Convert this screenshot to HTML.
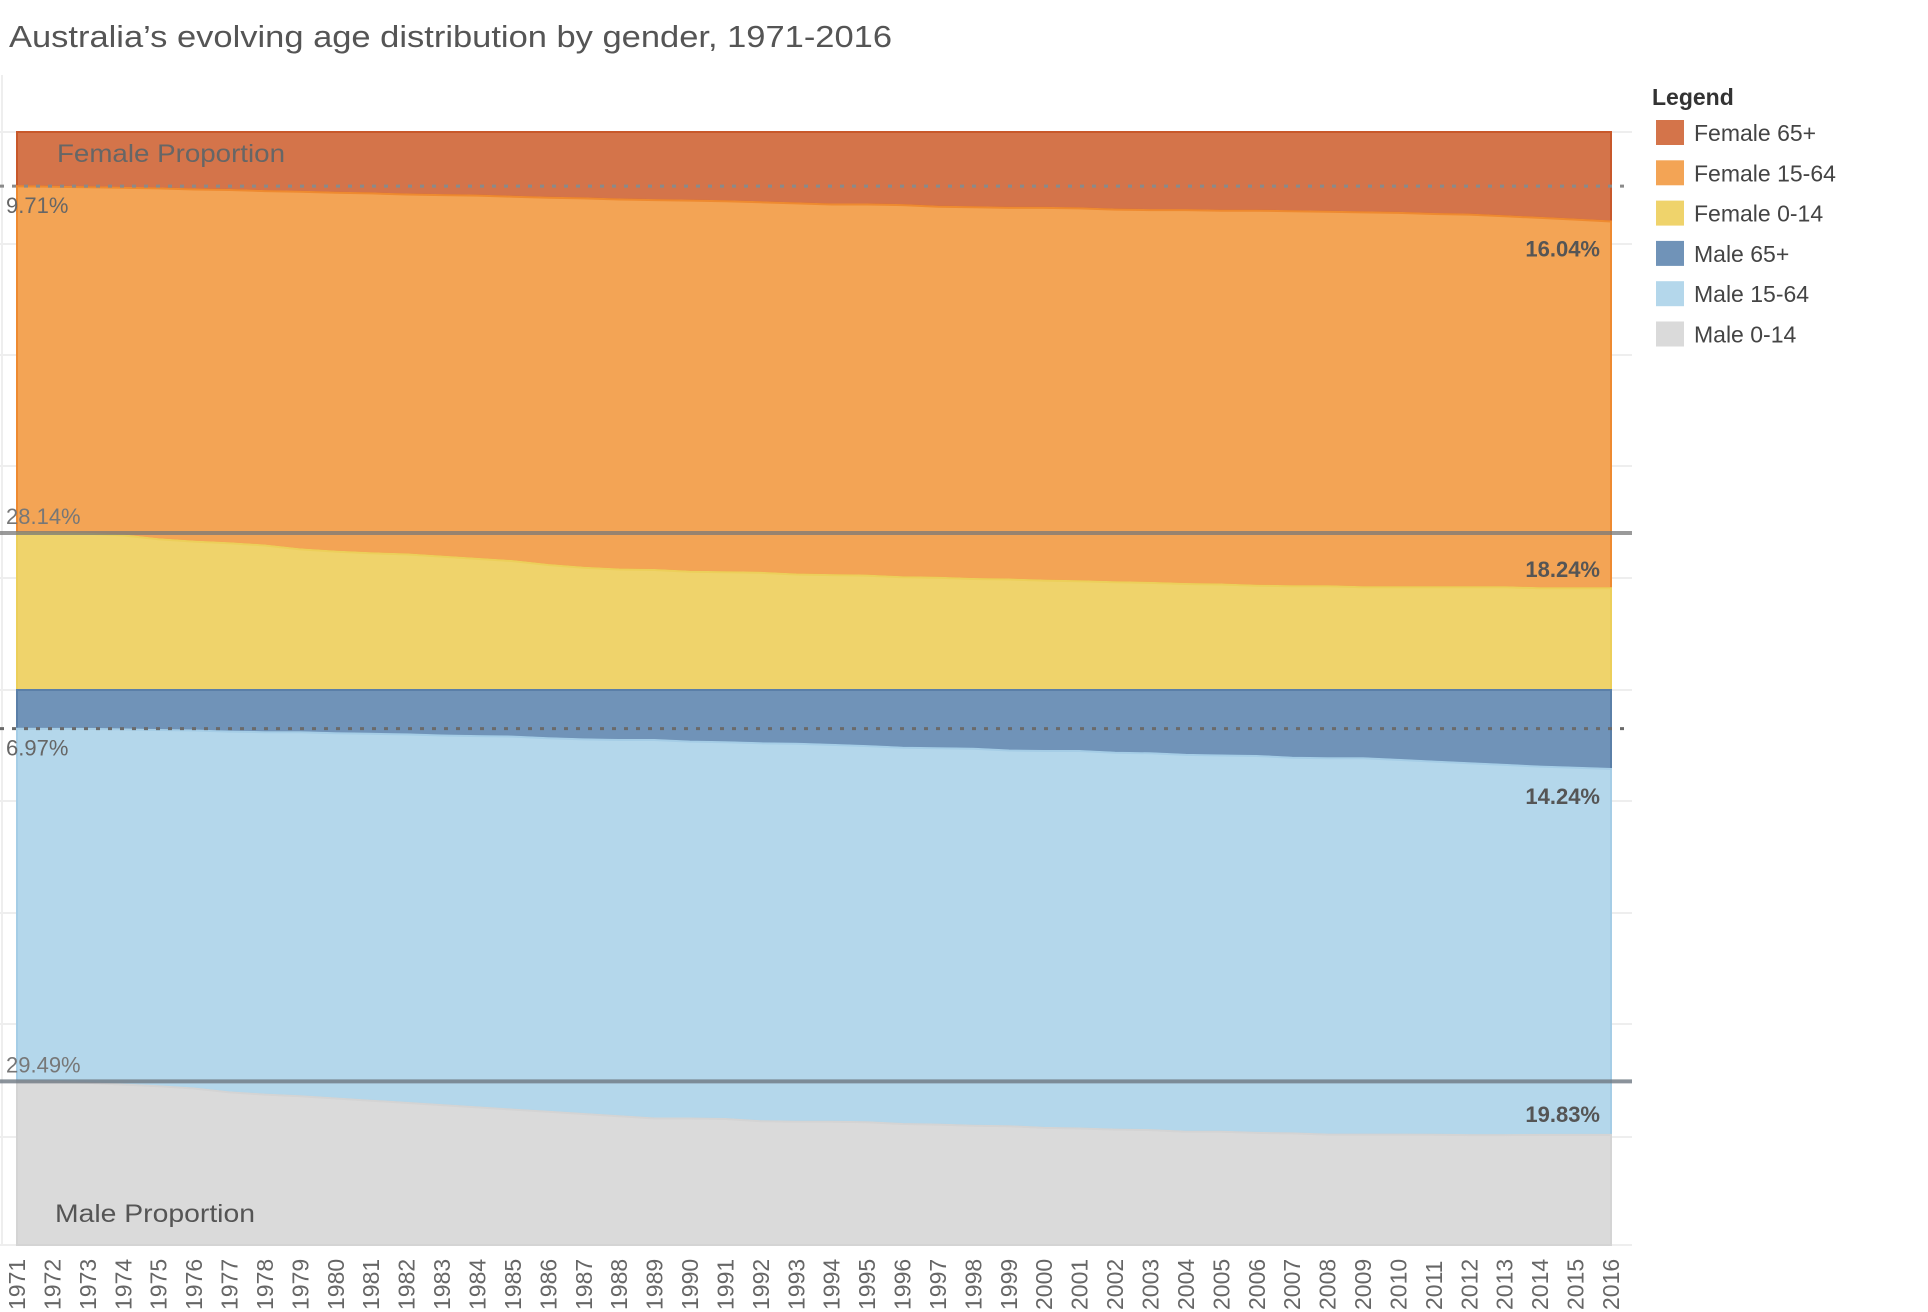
<!DOCTYPE html>
<html><head><meta charset="utf-8"><style>
html,body{margin:0;padding:0;background:#fff;}
svg{display:block;font-family:"Liberation Sans",sans-serif;}
</style></head><body>
<svg id="chart" width="1928" height="1312" viewBox="0 0 1928 1312">
<text x="9" y="47" font-size="31" fill="#555" textLength="883" lengthAdjust="spacingAndGlyphs">Australia’s evolving age distribution by gender, 1971-2016</text>
<g id="grid"></g>
<g id="areas"></g>
<g id="refs"></g>
<g id="labels"></g>
<g id="xaxis"></g>
<g id="legend"></g>
</svg>
<script>
const years = [];
for (let y = 1971; y <= 2016; y++) years.push(y);
const female65 = [9.71,9.8,9.9,10.0,10.1,10.3,10.4,10.6,10.7,10.9,11.0,11.2,11.3,11.4,11.6,11.8,11.9,12.1,12.2,12.3,12.4,12.6,12.8,13.0,13.0,13.1,13.4,13.5,13.6,13.6,13.7,13.9,14.0,14.0,14.1,14.1,14.2,14.3,14.4,14.5,14.7,14.8,15.1,15.4,15.7,16.04];
const female014 = [28.14,28.1,28.0,27.7,27.0,26.6,26.3,25.9,25.2,24.8,24.5,24.3,23.9,23.5,23.1,22.4,21.9,21.6,21.5,21.2,21.1,21.0,20.7,20.6,20.5,20.2,20.1,19.9,19.8,19.6,19.5,19.3,19.2,19.0,18.9,18.7,18.6,18.6,18.4,18.4,18.4,18.4,18.4,18.25,18.24,18.24];
const male65 = [6.97,7.0,7.0,7.1,7.2,7.3,7.5,7.6,7.6,7.8,7.9,8.0,8.2,8.3,8.4,8.7,8.9,9.0,9.0,9.3,9.4,9.6,9.7,9.9,10.1,10.4,10.5,10.6,10.9,11.0,11.0,11.3,11.4,11.7,11.8,11.9,12.2,12.3,12.3,12.6,12.9,13.2,13.5,13.8,14.0,14.24];
const male014 = [29.49,29.4,29.2,28.9,28.6,28.2,27.5,27.1,26.8,26.4,26.0,25.6,25.2,24.8,24.4,24.0,23.6,23.2,22.8,22.8,22.7,22.3,22.2,22.2,22.1,21.8,21.7,21.5,21.4,21.1,21.0,20.8,20.7,20.4,20.4,20.2,20.1,19.9,19.9,19.9,19.85,19.8,19.8,19.83,19.83,19.83];
const legendLabels = ["Female 65+","Female 15-64","Female 0-14","Male 65+","Male 15-64","Male 0-14"];
const legendColors = ["#d4744a","#f3a455","#efd36b","#7093b8","#b4d7eb","#dadada"];

const NS = "http://www.w3.org/2000/svg";
const X0 = 17, X1 = 1611;
const FT = 132, FB = 690, MT = 690, MB = 1245;
function x(i){ return X0 + i * (X1 - X0) / (years.length - 1); }
function fy(p){ return FT + p / 100 * (FB - FT); }
function myTop(p){ return MT + p / 100 * (MB - MT); }
function myBot(p){ return MB - p / 100 * (MB - MT); }
function fyBot(p){ return FB - p / 100 * (FB - FT); }
function mk(tag, attrs, parent){
  const e = document.createElementNS(NS, tag);
  for (const k in attrs) e.setAttribute(k, attrs[k]);
  parent.appendChild(e); return e;
}
const grid = document.getElementById('grid');
const gy = [132,244,355,466,578,690,801,913,1024,1137,1245];
gy.forEach(v => {
  const l = mk('line', {x1:0, x2:1632, y1:v, y2:v, stroke:'#eeeeee', 'stroke-width':2}, grid);
  
  
});
const vl = mk('line', {x1:2, x2:2, y1:75, y2:1245, stroke:'#eeeeee', 'stroke-width':2}, grid);



const areas = document.getElementById('areas');
function linePts(fn, arr){ return arr.map((v,i)=> x(i)+','+fn(v).toFixed(1)); }
function areaPath(topPts, botPts){
  return 'M' + topPts.join(' L') + ' L' + botPts.slice().reverse().join(' L') + ' Z';
}
const fTopEdge = years.map((_,i)=> x(i)+','+FT);
const fMidEdge = years.map((_,i)=> x(i)+','+FB);
const mBotEdge = years.map((_,i)=> x(i)+','+MB);
const f65Line = linePts(fy, female65);
const f014Line = linePts(fyBot, female014);
const m65Line = linePts(myTop, male65);
const m014Line = linePts(myBot, male014);
const defs = [
  ['area-female-65plus', fTopEdge, f65Line, legendColors[0], '#c8582a'],
  ['area-female-15-64', f65Line, f014Line, legendColors[1], '#ee8a30'],
  ['area-female-0-14', f014Line, fMidEdge, legendColors[2], '#eccf5a'],
  ['area-male-65plus', fMidEdge, m65Line, legendColors[3], '#5a7fa8'],
  ['area-male-15-64', m65Line, m014Line, legendColors[4], '#a5cde6'],
  ['area-male-0-14', m014Line, mBotEdge, legendColors[5], '#d4d4d4']
];
defs.forEach(d => {
  const p = mk('path', {d: areaPath(d[1], d[2]), fill: d[3], stroke: d[4], 'stroke-width': 2}, areas);
  
  
});

const refs = document.getElementById('refs');
const r1 = mk('line', {x1:0,x2:1632,y1:fy(female65[0]),y2:fy(female65[0]),stroke:'#8a8a8a','stroke-width':3,'stroke-dasharray':'4,8'}, refs);


const r2 = mk('line', {x1:0,x2:1632,y1:fyBot(female014[0]),y2:fyBot(female014[0]),stroke:'rgba(120,120,120,0.75)','stroke-width':4}, refs);


const r3 = mk('line', {x1:0,x2:1632,y1:myTop(male65[0]),y2:myTop(male65[0]),stroke:'#6a6a6a','stroke-width':3,'stroke-dasharray':'4,8'}, refs);


const r4 = mk('line', {x1:0,x2:1632,y1:myBot(male014[0]),y2:myBot(male014[0]),stroke:'rgba(110,120,130,0.8)','stroke-width':4}, refs);



const labels = document.getElementById('labels');
function txt(s, attrs, name){
  const t = mk('text', attrs, labels); t.textContent = s;
  
  
  return t;
}
const n = years.length - 1;
txt(female65[0].toFixed(2)+'%', {x:6, y:fy(female65[0])+27, 'font-size':22, fill:'#666'}, 'female-65-start-label');
txt(female014[0].toFixed(2)+'%', {x:6, y:fyBot(female014[0])-9, 'font-size':22, fill:'#777'}, 'female-0-14-start-label');
txt(male65[0].toFixed(2)+'%', {x:6, y:myTop(male65[0])+27, 'font-size':22, fill:'#666'}, 'male-65-start-label');
txt(male014[0].toFixed(2)+'%', {x:6, y:myBot(male014[0])-9, 'font-size':22, fill:'#777'}, 'male-0-14-start-label');
txt(female65[n].toFixed(2)+'%', {x:1600, y:fy(female65[n])+35, 'font-size':22, fill:'#555', 'text-anchor':'end', 'font-weight':'bold'}, 'female-65-end-label');
txt(female014[n].toFixed(2)+'%', {x:1600, y:fyBot(female014[n])-11, 'font-size':22, fill:'#555', 'text-anchor':'end', 'font-weight':'bold'}, 'female-0-14-end-label');
txt(male65[n].toFixed(2)+'%', {x:1600, y:myTop(male65[n])+35, 'font-size':22, fill:'#555', 'text-anchor':'end', 'font-weight':'bold'}, 'male-65-end-label');
txt(male014[n].toFixed(2)+'%', {x:1600, y:myBot(male014[n])-13, 'font-size':22, fill:'#555', 'text-anchor':'end', 'font-weight':'bold'}, 'male-0-14-end-label');
txt('Female Proportion', {x:57, y:162, 'font-size':25, fill:'#666', textLength:228, lengthAdjust:'spacingAndGlyphs'}, 'female-proportion-label');
txt('Male Proportion', {x:55, y:1222, 'font-size':25, fill:'#555', textLength:200, lengthAdjust:'spacingAndGlyphs'}, 'male-proportion-label');

const xa = document.getElementById('xaxis');
years.forEach((yr,i) => {
  const t = mk('text', {transform:`translate(${x(i)+8},1310) rotate(-90)`, 'font-size':23, fill:'#666'}, xa);
  t.textContent = yr;
  
  
});

const lg = document.getElementById('legend');
const lt = mk('text', {x:1652, y:105, 'font-size':23, fill:'#333', 'font-weight':'bold'}, lg);
lt.textContent = 'Legend';


legendLabels.forEach((lab,i) => {
  const yy = 120 + i * 40.3;
  const r = mk('rect', {x:1656, y:yy, width:28, height:25, fill:legendColors[i]}, lg);
  
  
  const t = mk('text', {x:1694, y:yy+21, 'font-size':23, fill:'#444'}, lg);
  t.textContent = lab;
  
  
});
</script>
</body></html>
